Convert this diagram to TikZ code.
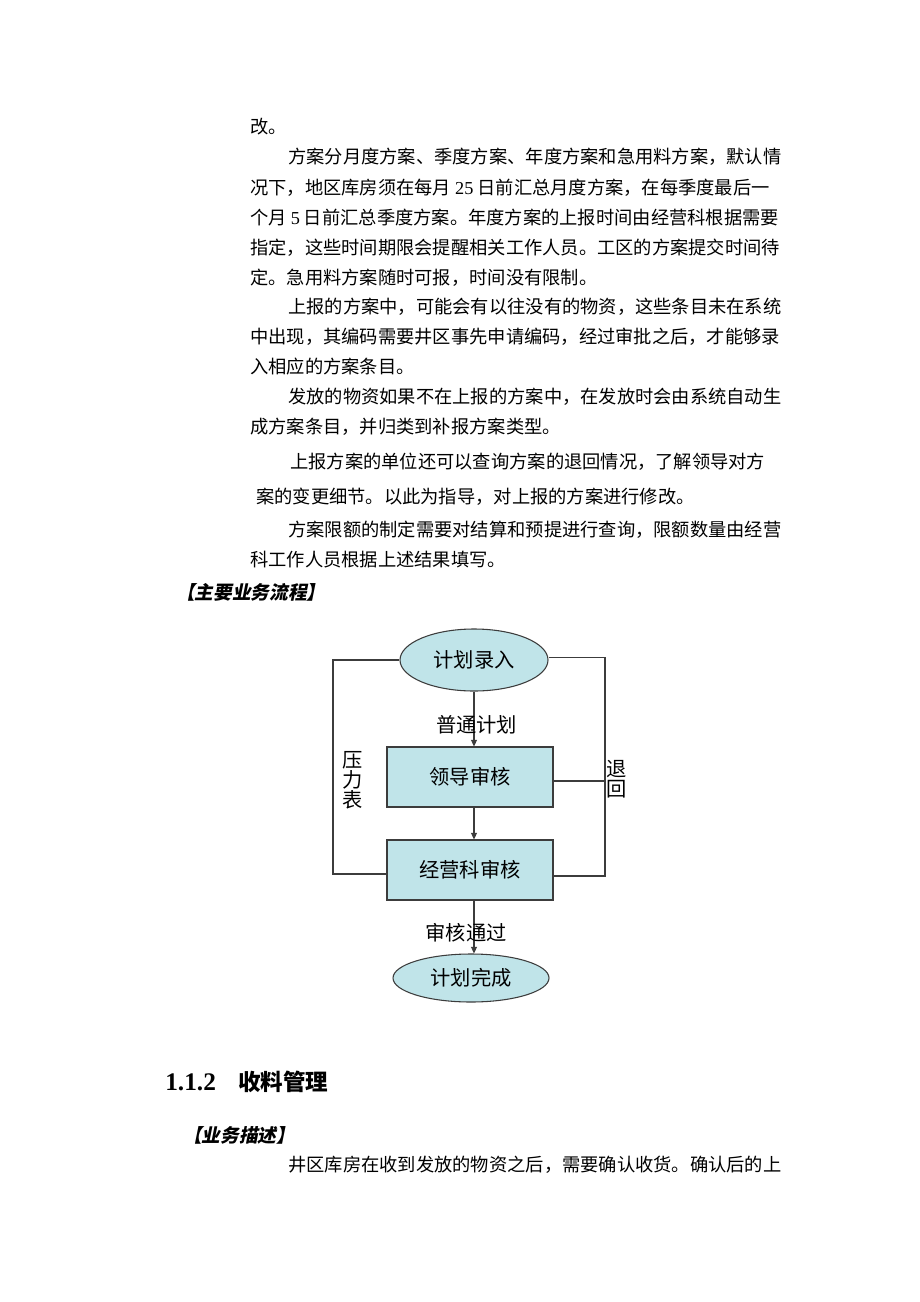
\documentclass[tikz,border=0pt]{standalone}
\usepackage{fontspec}
\setmainfont{Liberation Serif}
\newfontfamily\cjk{Noto Sans CJK SC}
\newfontfamily\cjkslant{Noto Sans CJK SC}[FakeSlant=0.2]
\usetikzlibrary{shapes.geometric,arrows.meta,positioning}

\XeTeXlinebreaklocale "zh"
\XeTeXlinebreakskip=0pt plus 2pt minus 0.6pt
\newdimen\pxu \pxu=0.75pt
\newcommand{\jline}[2]{\makebox[#1\pxu][s]{#2}}

\definecolor{boxfill}{RGB}{192,228,233}
\definecolor{linegray}{RGB}{60,60,60}

\tikzset{
  body/.style={font=\cjk\fontsize{13.7}{16}\selectfont, inner sep=0pt, anchor=west},
  flowtext/.style={font=\cjk\fontsize{15.2}{15}\selectfont, inner sep=1pt, text=black},
  terminal/.style={ellipse, draw=linegray, line width=0.8pt, fill=boxfill, flowtext},
  process/.style={rectangle, draw=linegray, line width=0.8pt, fill=boxfill, flowtext,
    minimum width=124.5pt, minimum height=45pt},
  flow/.style={linegray, line width=0.8pt},
  flowarrow/.style={flow, -{Triangle[length=5pt,width=4.5pt]}},
}

\begin{document}
\begin{tikzpicture}[x=0.75pt,y=-0.75pt]

\fill [white] (0,0) rectangle (920,1302);
\useasboundingbox (0,0) rectangle (920,1302);

% text above the chart
\node [body] (l1) at (250,127) {改。};
\node [body] (l2) at (288,157) {\jline{492}{方案分月度方案、季度方案、年度方案和急用料方案，默认情}};
\node [body] (l3) at (250,188) {\jline{530}{况下，地区库房须在每月\hspace{3pt}{\rmfamily 25}\hspace{3pt}日前汇总月度方案，在每季度最后一}};
\node [body] (l4) at (250,218) {\jline{530}{个月\hspace{3pt}{\rmfamily 5}\hspace{3pt}日前汇总季度方案。年度方案的上报时间由经营科根据需要}};
\node [body] (l5) at (250,248) {\jline{530}{指定，这些时间期限会提醒相关工作人员。工区的方案提交时间待}};
\node [body] (l6) at (250,278) {定。急用料方案随时可报，时间没有限制。};

\node [body] (l7) at (288,307) {\jline{492}{上报的方案中，可能会有以往没有的物资，这些条目未在系统}};
\node [body] (l8) at (250,337) {\jline{530}{中出现，其编码需要井区事先申请编码，经过审批之后，才能够录}};
\node [body] (l9) at (250,367) {入相应的方案条目。};

\node [body] (l10) at (288,397) {\jline{492}{发放的物资如果不在上报的方案中，在发放时会由系统自动生}};
\node [body] (l11) at (250,427) {成方案条目，并归类到补报方案类型。};

\node [body] (l12) at (290,462) {\jline{482}{上报方案的单位还可以查询方案的退回情况，了解领导对方}};
\node [body] (l13) at (256,497) {案的变更细节。以此为指导，对上报的方案进行修改。};

\node [body] (l14) at (288,530) {\jline{492}{方案限额的制定需要对结算和预提进行查询，限额数量由经营}};
\node [body] (l15) at (250,560) {科工作人员根据上述结果填写。};

\node [body, font=\cjkslant\bfseries\fontsize{14}{16}\selectfont] (flowhead) at (176,592) {【主要业务流程】};

% the chart
\node [terminal, minimum width=111pt, minimum height=46.5pt] (entry) at (474,660) {计划录入};
\node [process] (leader) at (470,777) {领导审核};
\node [process] (office) at (470,870) {经营科审核};
\node [terminal, minimum width=117pt, minimum height=36pt] (finish) at (471,978) {计划完成};

\draw [flowarrow] (entry.south) -- (entry.south |- leader.north)
  node [midway, flowtext, xshift=2pt, yshift=-4pt] {普通计划};
\draw [flowarrow] (leader.south -| entry) -- (entry |- office.north);
\draw [flowarrow] (office.south -| entry) -- (entry |- finish.north)
  node [midway, flowtext, xshift=-6pt, yshift=-4pt] {审核通过};

% return loops
\coordinate (leftturn) at (333,874);
\coordinate (rightturn) at (605,876);
\draw [flow] (office.west |- leftturn) -- (leftturn) |- (entry.west);
\draw [flow] (office.east |- rightturn) -- (rightturn) |- ([yshift=2pt]entry.east);
\draw [flow] ([yshift=-3pt]leader.east) -- ([yshift=-3pt]leader.east -| rightturn);

\node [flowtext, align=center] (pressure) at (353,780) {压\\力\\表};
\node [flowtext, align=center] (back) at (617,779) {退\\回};

% next section
\node [body, font=\rmfamily\bfseries\fontsize{19}{22}\selectfont] (secnum) at (165,1082) {1.1.2};
\node [body, font=\cjk\bfseries\fontsize{16.9}{20}\selectfont] (sectitle) at (238,1082) {收料管理};
\node [body, font=\cjkslant\bfseries\fontsize{14}{16}\selectfont] (deschead) at (183,1135) {【业务描述】};
\node [body] (l16) at (288,1165) {\jline{494}{井区库房在收到发放的物资之后，需要确认收货。确认后的上}};

\end{tikzpicture}
\end{document}
